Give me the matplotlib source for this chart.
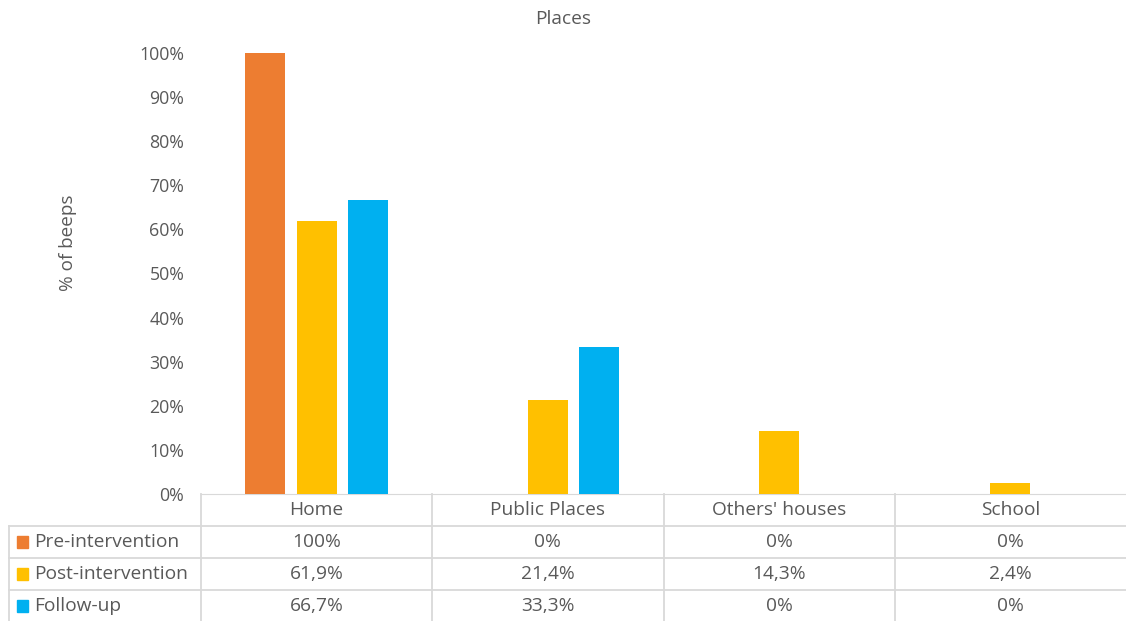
import numpy as np
import matplotlib
matplotlib.use("Agg")
import matplotlib.pyplot as plt
from matplotlib.patches import Rectangle

plt.rcParams["font.family"] = ["Open Sans", "DejaVu Sans"]

places = ["Home", "Public Places", "Others' houses", "School"]
series = ["Pre-intervention", "Post-intervention", "Follow-up"]
pre = [100.0, 0.0, 0.0, 0.0]
post = [61.9, 21.4, 14.3, 2.4]
follow = [66.7, 33.3, 0.0, 0.0]
colors = ["#ED7D31", "#FFC000", "#00B0F0"]

TXT = "#595959"
GRID = "#D9D9D9"
W, H = 1126, 621
FS = 13.8

fig = plt.figure(figsize=(W / 100, H / 100), dpi=100)
# axes box in pixels: x 201..1126, y 53..494
ax = fig.add_axes([201 / W, (H - 494) / H, 925 / W, 441 / H])

x = np.arange(len(places))
bw = 0.172
step = 0.222
for k, (vals, c) in enumerate(zip([pre, post, follow], colors)):
    ax.bar(x + (k - 1) * step, vals, width=bw, color=c, zorder=3)

ax.set_xlim(-0.5, len(places) - 0.5)
ax.set_ylim(0, 100)
ax.set_yticks(np.arange(0, 101, 10))
ax.set_yticklabels([f"{v}%" for v in range(0, 101, 10)])
ax.tick_params(axis="y", length=0, pad=12, labelsize=12.8, labelcolor=TXT)
ax.tick_params(axis="x", length=0, labelbottom=False)
for s in ["top", "right", "left"]:
    ax.spines[s].set_visible(False)
ax.spines["bottom"].set_color(GRID)
fig.text(68 / W, 1 - 243 / H, "% of beeps", rotation=90, ha="center",
         va="center", fontsize=13.6, color=TXT)
fig.text(563 / W, 1 - 19 / H, "Places", ha="center", va="center",
         fontsize=FS, color=TXT)

# data table below the axis
row_h = 32 / 441
lab_x0 = (9 - 201) / 925
tr = ax.transAxes


def hline(y, x0, x1):
    ax.plot([x0, x1], [y, y], color=GRID, lw=1.3, transform=tr, clip_on=False)


def vline(xx, y0, y1):
    ax.plot([xx, xx], [y0, y1], color=GRID, lw=1.3, transform=tr, clip_on=False)


bottom = -4 * row_h - 0.01
for i in range(1, 4):
    hline(-i * row_h, lab_x0, 1.0)
for i in range(4):
    vline(i / 4, 0, bottom)
vline(lab_x0, -row_h, bottom)

for i, p in enumerate(places):
    ax.text((i + 0.5) / 4, -0.5 * row_h, p, transform=tr, ha="center",
            va="center", fontsize=FS, color=TXT)


def fmt(v):
    if v == 100:
        return "100%"
    if v == 0:
        return "0%"
    return f"{v:.1f}%".replace(".", ",")


for r, (name, vals, c) in enumerate(zip(series, [pre, post, follow], colors)):
    yc = -(r + 1.5) * row_h
    ax.add_patch(Rectangle((lab_x0 + 0.009, yc - 0.0125), 0.0115, 0.025,
                           color=c, transform=tr, clip_on=False))
    ax.text(lab_x0 + 0.0275, yc, name, transform=tr, ha="left", va="center",
            fontsize=FS, color=TXT)
    for i, v in enumerate(vals):
        ax.text((i + 0.5) / 4, yc, fmt(v), transform=tr, ha="center",
                va="center", fontsize=FS, color=TXT)

fig.savefig("out.png", dpi=100)
